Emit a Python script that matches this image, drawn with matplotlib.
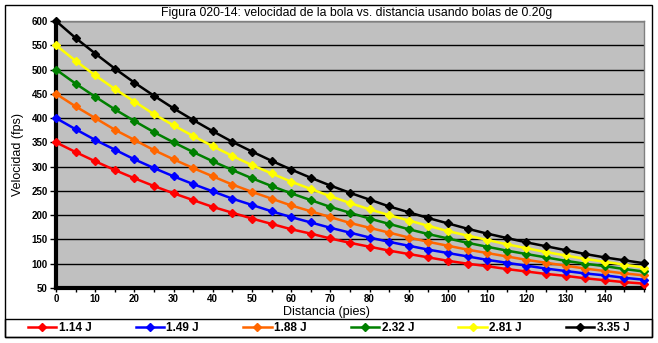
import numpy as np
import matplotlib
matplotlib.use("Agg")
import matplotlib.pyplot as plt
from matplotlib.patches import Rectangle

# distance in feet, one reading every 5 ft
distancia = list(range(0, 155, 5))

v_114 = [350, 330, 311, 293, 276, 260, 245, 231, 217, 205, 193, 182, 171, 162, 152, 143,
         135, 127, 120, 113, 106, 100, 95, 89, 84, 79, 75, 70, 66, 62, 59]
v_149 = [400, 377, 355, 335, 315, 297, 280, 264, 249, 234, 221, 208, 196, 185, 174, 164,
         154, 145, 137, 129, 122, 115, 108, 102, 96, 90, 85, 80, 76, 71, 67]
v_188 = [450, 424, 400, 376, 355, 334, 315, 297, 280, 263, 248, 234, 220, 208, 196, 184,
         174, 164, 154, 145, 137, 129, 122, 115, 108, 102, 96, 90, 85, 80, 76]
v_232 = [500, 471, 444, 418, 394, 371, 350, 330, 311, 293, 276, 260, 245, 231, 217, 205,
         193, 182, 171, 161, 152, 143, 135, 127, 120, 113, 106, 100, 95, 89, 84]
v_281 = [550, 518, 488, 460, 434, 408, 385, 363, 342, 322, 303, 286, 269, 254, 239, 225,
         212, 200, 189, 178, 167, 158, 149, 140, 132, 124, 117, 110, 104, 98, 92]
v_335 = [600, 565, 533, 502, 473, 446, 420, 396, 373, 351, 331, 312, 294, 277, 261, 246,
         232, 218, 206, 194, 183, 172, 162, 153, 144, 136, 128, 120, 113, 107, 101]

series = [v_114, v_149, v_188, v_232, v_281, v_335]
labels = ["1.14 J", "1.49 J", "1.88 J", "2.32 J", "2.81 J", "3.35 J"]
colors = ["#ff0000", "#0000ff", "#ff6600", "#008000", "#ffff00", "#000000"]

W, H = 658, 343
fig = plt.figure(figsize=(W / 100, H / 100), dpi=100)
fig.patch.set_facecolor("white")

def fx(px):
    return px / W

def fy(py):
    return 1 - py / H

# plot area in pixel coordinates
x0, x1, y0, y1 = 56, 644, 21, 288
ax = fig.add_axes([fx(x0), fy(y1), fx(x1) - fx(x0), fy(y0) - fy(y1)])
ax.set_facecolor("#c0c0c0")

for vals, lab, col in zip(series, labels, colors):
    ax.plot(distancia, vals, color=col, lw=1.8, marker="D", ms=3.8,
            mec=col, mfc=col, label=lab, clip_on=False, zorder=3)

ax.set_xlim(0, 150)
ax.set_ylim(50, 600)
ax.set_xticks(range(0, 150, 10))
ax.set_xticks(range(0, 155, 5), minor=True)
ax.set_yticks(range(50, 601, 50))
ax.yaxis.grid(True, color="black", lw=1)
ax.set_axisbelow(True)

for s in ["top", "right"]:
    ax.spines[s].set_color("#808080")
    ax.spines[s].set_linewidth(1)
for s in ["left", "bottom"]:
    ax.spines[s].set_color("black")
    ax.spines[s].set_linewidth(3)

ax.tick_params(axis="y", which="major", length=4, width=1, color="black",
               labelsize=7, pad=2)
ax.tick_params(axis="x", which="both", length=3, width=1, color="black",
               labelsize=7, pad=1)
for t in ax.get_xticklabels() + ax.get_yticklabels():
    t.set_fontweight("bold")
    t.set_family("Liberation Sans")

ax.set_xlabel("Distancia (pies)", fontsize=9, family="Liberation Sans", va="center")
ax.set_ylabel("Velocidad (fps)", fontsize=9, family="Liberation Sans",
              va="center", ha="center")
ax.xaxis.set_label_coords((326.5 - x0) / (x1 - x0), -(311.5 - y1) / (y1 - y0))
ax.yaxis.set_label_coords(-(x0 - 18.5) / (x1 - x0), 0.5)

fig.text(fx(357), fy(13), "Figura 020-14: velocidad de la bola vs. distancia usando bolas de 0.20g",
         ha="center", va="center", fontsize=8.8, family="Liberation Sans")

# outer chart frame and legend box
fig.add_artist(Rectangle((fx(5), fy(337)), fx(652) - fx(5), fy(5) - fy(337),
                         transform=fig.transFigure, fill=False, ec="black", lw=1))
fig.add_artist(Rectangle((fx(5), fy(337)), fx(652) - fx(5), fy(319) - fy(337),
                         transform=fig.transFigure, fill=False, ec="black", lw=1))

handles, labs = ax.get_legend_handles_labels()
leg = fig.legend(handles, labs, loc="center left", ncol=6,
                 bbox_to_anchor=(fx(28), fy(328)),
                 frameon=False, borderaxespad=0, borderpad=0,
                 handlelength=2.4, handletextpad=0.2, columnspacing=3.75,
                 prop={"family": "Liberation Sans", "weight": "bold", "size": 8.5})

fig.savefig("out.png", dpi=100)
